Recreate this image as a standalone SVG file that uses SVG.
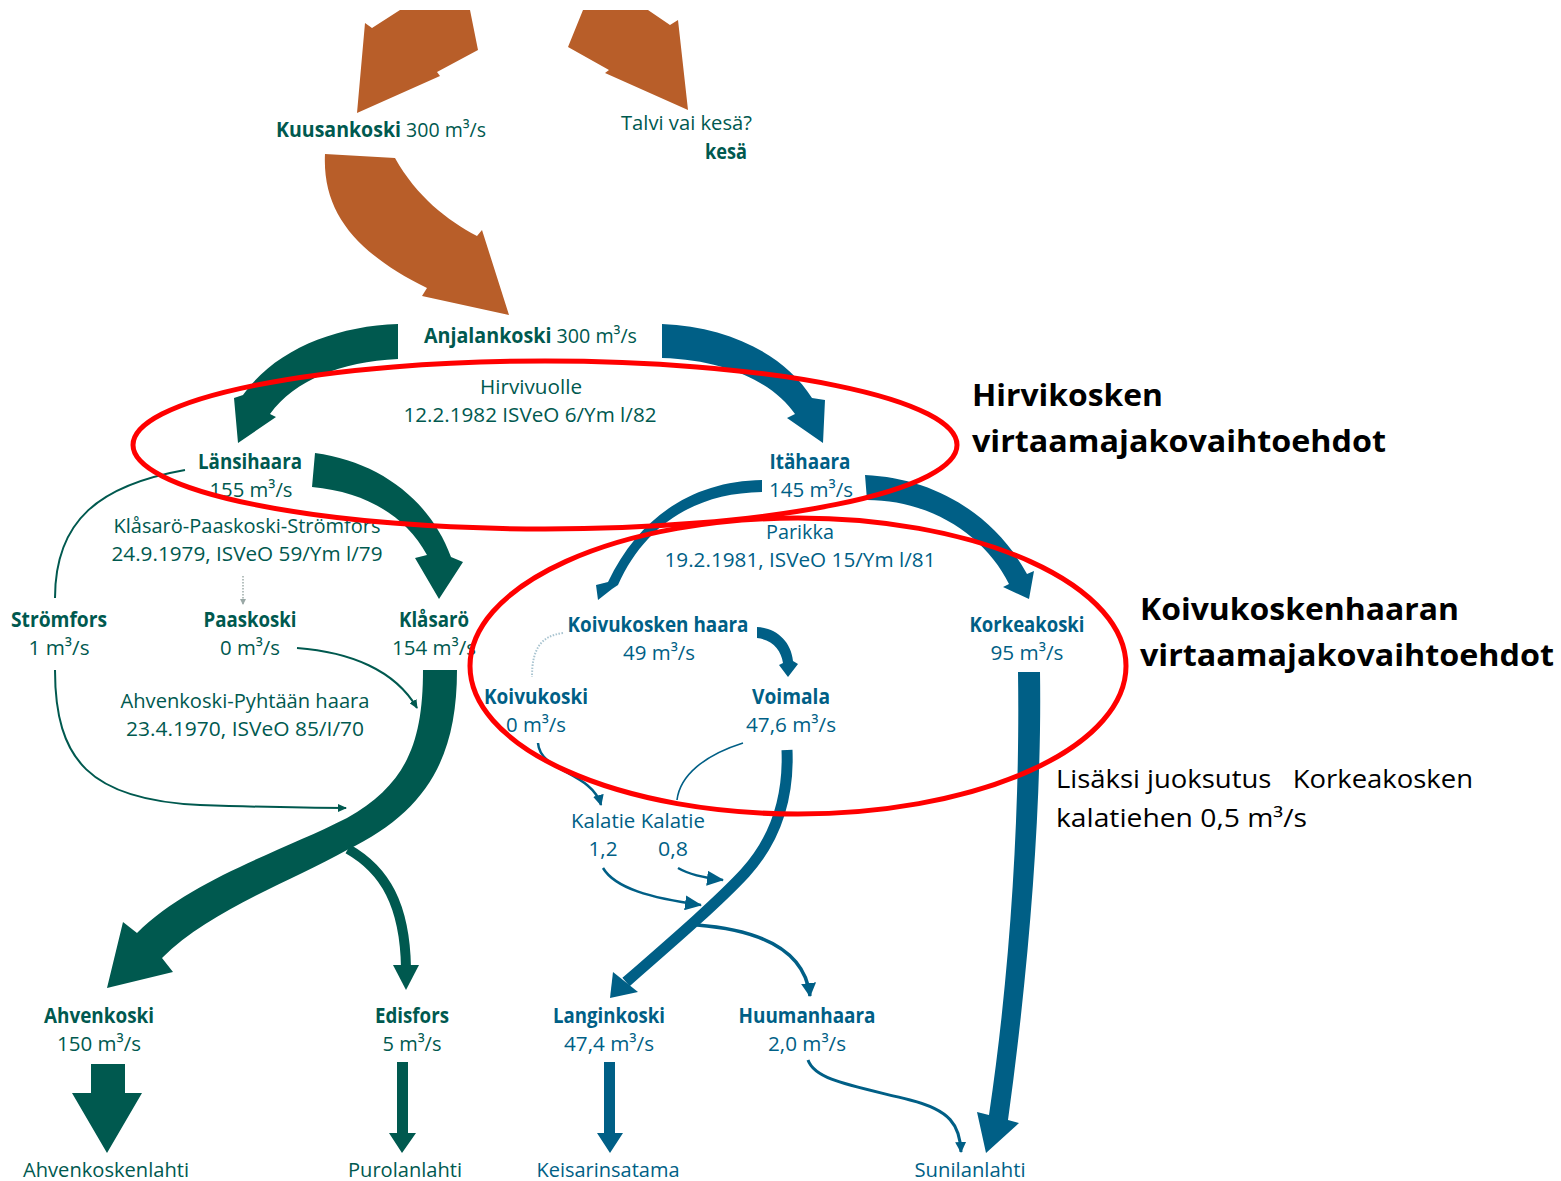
<svg xmlns="http://www.w3.org/2000/svg" width="1561" height="1181" viewBox="0 0 1561 1181">
<defs>
<style>
.t{font-family:"Open Sans","Noto Sans","DejaVu Sans",sans-serif;font-size:20.5px;}
.b{font-weight:bold;}
.g{fill:#00594F;}
.u{fill:#005F86;}
.k{fill:#000000;font-family:"Open Sans","Noto Sans","DejaVu Sans",sans-serif;}
.or{fill:#B85E29;}
.fg{fill:#00594F;}
.fb{fill:#005F86;}
.lg{fill:none;stroke:#00594F;}
.lb{fill:none;stroke:#005F86;}
.red{fill:none;stroke:#FF0000;stroke-width:5;}
</style>
<marker id="mg" markerUnits="userSpaceOnUse" markerWidth="9" markerHeight="8" refX="8" refY="4" orient="auto"><path d="M0,0 L9,4 L0,8 Z" fill="#00594F"/></marker>
<marker id="mgd" markerUnits="userSpaceOnUse" markerWidth="6" markerHeight="6" refX="5" refY="3" orient="auto"><path d="M0,0 L6,3 L0,6 Z" fill="#9aa8a6"/></marker>
<marker id="mb" markerUnits="userSpaceOnUse" markerWidth="17" markerHeight="15" refX="16" refY="7.5" orient="auto"><path d="M0,0 L17,7.5 L0,15 Z" fill="#005F86"/></marker>
<marker id="mbs" markerUnits="userSpaceOnUse" markerWidth="11" markerHeight="11" refX="10" refY="5.5" orient="auto"><path d="M0,0 L11,5.5 L0,11 Z" fill="#005F86"/></marker>
<marker id="mbm" markerUnits="userSpaceOnUse" markerWidth="14" markerHeight="15" refX="13" refY="7.5" orient="auto"><path d="M0,0 L14,7.5 L0,15 Z" fill="#005F86"/></marker>
</defs>
<rect width="1561" height="1181" fill="#ffffff"/>

<g id="connectors">
  <!-- orange top arrows -->
  <polygon class="or" points="400,10 470,10 478,50 437,72 440,76 357,113 365,23 372,28"/>
  <polygon class="or" points="583,10 648,10 670,25 678,20 688,110 605,73 609,70 568,47"/>
  <path class="or" d="M325,154 C322,215 360,255 427,288 L422,296 L509,315 L482,230 L477,236 C447,220 417,197 395,158 Z"/>

  <!-- Anjalankoski split -->
  <path class="fg" d="M398,324 C335,326 275,350 243,395 L234,398 L238,443 L276,417 L270,414 C295,380 340,362 398,359 Z"/>
  <path class="fb" d="M662,324 C730,327 785,355 812,398 L825,400 L823,443 L787,418 L795,414 C775,385 730,360 662,358 Z"/>

  <!-- Länsihaara -> Klåsarö -->
  <path class="fg" d="M315,453 C380,462 430,500 451,557 L463,562 L439,599 L415,558 L427,555 C405,515 365,492 312,487 Z"/>
  <!-- Klåsarö -> Ahvenkoski -->
  <path class="fg" d="M423,670 C423,745 405,785 347,818 C280,852 190,880 137,933 L123,922 L107,988 L173,972 L162,958 C210,910 290,882 347,850 C425,812 457,760 457,670 Z"/>
  <!-- branch -> Edisfors -->
  <path class="lg" stroke-width="10" d="M348,849 C385,870 405,905 406,968"/>
  <polygon class="fg" points="393,965 419,965 406,990"/>

  <!-- thin green lines -->
  <path class="lg" stroke-width="2" d="M185,470 C100,485 55,520 55,598"/>
  <path class="lg" stroke-width="2" marker-end="url(#mg)" d="M55,670 C55,760 90,800 200,805 C260,807 300,808 346,808"/>
  <path class="lg" stroke-width="2" marker-end="url(#mg)" d="M297,648 C350,652 395,670 417,708"/>
  <path fill="none" stroke="#b5c0be" stroke-width="2" stroke-dasharray="1.5,1.5" marker-end="url(#mgd)" d="M243,576 L243,604"/>

  <!-- Itähaara split -->
  <path class="fb" d="M762,480 C695,481 640,515 608,582 L596,585 L598,600 L612,589 L618,585 C645,525 695,493 762,492 Z"/>
  <path class="fb" d="M865,475 C935,478 995,515 1027,574 L1034,571 L1029,599 L1003,587 L1009,584 C985,535 930,500 867,500 Z"/>

  <!-- Koivukosken haara -> Voimala -->
  <path class="fb" d="M757,627 C776,628 791,641 793,661 L798,664 L788,677 L779,665 L783,663 C781,650 773,640 757,638 Z"/>
  <!-- Koivukosken haara -> Koivukoski dotted -->
  <path fill="none" stroke="#a9c4d0" stroke-width="2" stroke-dasharray="1.5,1.5" d="M563,633 C540,636 532,650 532,677"/>

  <!-- Koivukoski -> Kalatie -->
  <path class="lb" stroke-width="2.5" marker-end="url(#mbs)" d="M538,743 C540,772 592,772 601,805"/>
  <!-- Voimala -> Kalatie 0,8 -->
  <path class="lb" stroke-width="1.6" d="M743,743 C705,755 680,775 677,800"/>

  <!-- Voimala -> Langinkoski -->
  <path class="lb" stroke-width="11" d="M787,750 C789,800 775,840 745,873 C720,900 680,935 626,982"/>
  <polygon class="fb" points="613,972 638,992 610,998"/>

  <!-- Kalatie arrows -->
  <path class="lb" stroke-width="2.5" marker-end="url(#mb)" d="M603,868 C615,888 650,898 701,905"/>
  <path class="lb" stroke-width="2.5" marker-end="url(#mb)" d="M678,868 C690,875 705,878 723,880"/>

  <!-- branch -> Huumanhaara -->
  <path class="lb" stroke-width="3.5" marker-end="url(#mbm)" d="M697,925 C760,930 805,950 810,996"/>

  <!-- Korkeakoski -> Sunilanlahti -->
  <path class="fb" d="M1018,672 C1020,800 1012,960 989,1115 L977,1112 L986,1153 L1019,1123 L1008,1120 C1030,960 1042,800 1040,672 Z"/>
  <!-- Huumanhaara -> Sunilanlahti -->
  <path class="lb" stroke-width="3" marker-end="url(#mbs)" d="M808,1060 C815,1080 850,1085 910,1100 C950,1110 960,1125 961,1152"/>

  <!-- bottom block arrows -->
  <polygon class="fg" points="91,1064 125,1064 125,1093 142,1093 107,1153 72,1093 91,1093"/>
  <polygon class="fg" points="397,1062 408,1062 408,1133 416,1133 402,1153 389,1133 397,1133"/>
  <polygon class="fb" points="604,1062 615,1062 615,1133 623,1133 610,1153 597,1133 604,1133"/>
</g>

<g id="node-kuusankoski"><text class="t g" x="276" y="137" textLength="210" lengthAdjust="spacingAndGlyphs"><tspan class="b">Kuusankoski</tspan> 300 m³/s</text></g>
<g id="node-talvi">
  <text class="t g" x="752" y="130" text-anchor="end" textLength="131" lengthAdjust="spacingAndGlyphs">Talvi vai kesä?</text>
  <text class="t g b" x="747" y="159" text-anchor="end" textLength="42" lengthAdjust="spacingAndGlyphs">kesä</text>
</g>
<g id="node-anjalankoski"><text class="t g" x="424" y="343" textLength="213" lengthAdjust="spacingAndGlyphs"><tspan class="b">Anjalankoski</tspan> 300 m³/s</text></g>
<g id="label-hirvivuolle">
  <text class="t g" x="531" y="394" text-anchor="middle" textLength="102" lengthAdjust="spacingAndGlyphs">Hirvivuolle</text>
  <text class="t g" x="530" y="422" text-anchor="middle" textLength="253" lengthAdjust="spacingAndGlyphs">12.2.1982 ISVeO 6/Ym l/82</text>
</g>
<g id="node-lansihaara">
  <text class="t g b" x="250" y="469" text-anchor="middle" textLength="104" lengthAdjust="spacingAndGlyphs">Länsihaara</text>
  <text class="t g" x="251" y="497" text-anchor="middle" textLength="83" lengthAdjust="spacingAndGlyphs">155 m³/s</text>
</g>
<g id="node-itahaara">
  <text class="t u b" x="810" y="469" text-anchor="middle" textLength="81" lengthAdjust="spacingAndGlyphs">Itähaara</text>
  <text class="t u" x="811" y="497" text-anchor="middle" textLength="84" lengthAdjust="spacingAndGlyphs">145 m³/s</text>
</g>
<g id="label-klasaro-paaskoski">
  <text class="t g" x="247" y="533" text-anchor="middle" textLength="267" lengthAdjust="spacingAndGlyphs">Klåsarö-Paaskoski-Strömfors</text>
  <text class="t g" x="247" y="561" text-anchor="middle" textLength="271" lengthAdjust="spacingAndGlyphs">24.9.1979, ISVeO 59/Ym l/79</text>
</g>
<g id="label-parikka">
  <text class="t u" x="800" y="539" text-anchor="middle" textLength="68" lengthAdjust="spacingAndGlyphs">Parikka</text>
  <text class="t u" x="800" y="567" text-anchor="middle" textLength="271" lengthAdjust="spacingAndGlyphs">19.2.1981, ISVeO 15/Ym l/81</text>
</g>
<g id="node-stromfors">
  <text class="t g b" x="59" y="627" text-anchor="middle" textLength="96" lengthAdjust="spacingAndGlyphs">Strömfors</text>
  <text class="t g" x="59" y="655" text-anchor="middle" textLength="61" lengthAdjust="spacingAndGlyphs">1 m³/s</text>
</g>
<g id="node-paaskoski">
  <text class="t g b" x="250" y="627" text-anchor="middle" textLength="93" lengthAdjust="spacingAndGlyphs">Paaskoski</text>
  <text class="t g" x="250" y="655" text-anchor="middle" textLength="60" lengthAdjust="spacingAndGlyphs">0 m³/s</text>
</g>
<g id="node-klasaro">
  <text class="t g b" x="434" y="627" text-anchor="middle" textLength="70" lengthAdjust="spacingAndGlyphs">Klåsarö</text>
  <text class="t g" x="434" y="655" text-anchor="middle" textLength="84" lengthAdjust="spacingAndGlyphs">154 m³/s</text>
</g>
<g id="node-koivukosken-haara">
  <text class="t u b" x="658" y="632" text-anchor="middle" textLength="181" lengthAdjust="spacingAndGlyphs">Koivukosken haara</text>
  <text class="t u" x="659" y="660" text-anchor="middle" textLength="72" lengthAdjust="spacingAndGlyphs">49 m³/s</text>
</g>
<g id="node-korkeakoski">
  <text class="t u b" x="1027" y="632" text-anchor="middle" textLength="115" lengthAdjust="spacingAndGlyphs">Korkeakoski</text>
  <text class="t u" x="1027" y="660" text-anchor="middle" textLength="73" lengthAdjust="spacingAndGlyphs">95 m³/s</text>
</g>
<g id="label-ahvenkoski-pyhtaa">
  <text class="t g" x="245" y="708" text-anchor="middle" textLength="249" lengthAdjust="spacingAndGlyphs">Ahvenkoski-Pyhtään haara</text>
  <text class="t g" x="245" y="736" text-anchor="middle" textLength="238" lengthAdjust="spacingAndGlyphs">23.4.1970, ISVeO 85/I/70</text>
</g>
<g id="node-koivukoski">
  <text class="t u b" x="536" y="704" text-anchor="middle" textLength="104" lengthAdjust="spacingAndGlyphs">Koivukoski</text>
  <text class="t u" x="536" y="732" text-anchor="middle" textLength="60" lengthAdjust="spacingAndGlyphs">0 m³/s</text>
</g>
<g id="node-voimala">
  <text class="t u b" x="791" y="704" text-anchor="middle" textLength="78" lengthAdjust="spacingAndGlyphs">Voimala</text>
  <text class="t u" x="791" y="732" text-anchor="middle" textLength="90" lengthAdjust="spacingAndGlyphs">47,6 m³/s</text>
</g>
<g id="node-kalatie">
  <text class="t u" x="571" y="828" textLength="134" lengthAdjust="spacingAndGlyphs">Kalatie Kalatie</text>
  <text class="t u" x="603" y="856" text-anchor="middle" textLength="29" lengthAdjust="spacingAndGlyphs">1,2</text>
  <text class="t u" x="673" y="856" text-anchor="middle" textLength="30" lengthAdjust="spacingAndGlyphs">0,8</text>
</g>
<g id="node-ahvenkoski">
  <text class="t g b" x="99" y="1023" text-anchor="middle" textLength="110" lengthAdjust="spacingAndGlyphs">Ahvenkoski</text>
  <text class="t g" x="99" y="1051" text-anchor="middle" textLength="84" lengthAdjust="spacingAndGlyphs">150 m³/s</text>
</g>
<g id="node-edisfors">
  <text class="t g b" x="412" y="1023" text-anchor="middle" textLength="74" lengthAdjust="spacingAndGlyphs">Edisfors</text>
  <text class="t g" x="412" y="1051" text-anchor="middle" textLength="59" lengthAdjust="spacingAndGlyphs">5 m³/s</text>
</g>
<g id="node-langinkoski">
  <text class="t u b" x="609" y="1023" text-anchor="middle" textLength="112" lengthAdjust="spacingAndGlyphs">Langinkoski</text>
  <text class="t u" x="609" y="1051" text-anchor="middle" textLength="90" lengthAdjust="spacingAndGlyphs">47,4 m³/s</text>
</g>
<g id="node-huumanhaara">
  <text class="t u b" x="807" y="1023" text-anchor="middle" textLength="137" lengthAdjust="spacingAndGlyphs">Huumanhaara</text>
  <text class="t u" x="807" y="1051" text-anchor="middle" textLength="78" lengthAdjust="spacingAndGlyphs">2,0 m³/s</text>
</g>
<g id="node-ahvenkoskenlahti"><text class="t g" x="106" y="1177" text-anchor="middle" textLength="166" lengthAdjust="spacingAndGlyphs">Ahvenkoskenlahti</text></g>
<g id="node-purolanlahti"><text class="t g" x="405" y="1177" text-anchor="middle" textLength="114" lengthAdjust="spacingAndGlyphs">Purolanlahti</text></g>
<g id="node-keisarinsatama"><text class="t u" x="608" y="1177" text-anchor="middle" textLength="143" lengthAdjust="spacingAndGlyphs">Keisarinsatama</text></g>
<g id="node-sunilanlahti"><text class="t u" x="970" y="1177" text-anchor="middle" textLength="111" lengthAdjust="spacingAndGlyphs">Sunilanlahti</text></g>

<g id="title-hirvikoski">
  <text class="k b" x="972" y="406" font-size="30.5" textLength="191" lengthAdjust="spacingAndGlyphs">Hirvikosken</text>
  <text class="k b" x="972" y="452" font-size="30.5" textLength="414" lengthAdjust="spacingAndGlyphs">virtaamajakovaihtoehdot</text>
</g>
<g id="title-koivukoski">
  <text class="k b" x="1140" y="620" font-size="30.5" textLength="319" lengthAdjust="spacingAndGlyphs">Koivukoskenhaaran</text>
  <text class="k b" x="1140" y="666" font-size="30.5" textLength="414" lengthAdjust="spacingAndGlyphs">virtaamajakovaihtoehdot</text>
</g>
<g id="note-lisaksi">
  <text class="k" x="1056" y="788" font-size="25" xml:space="preserve" textLength="417" lengthAdjust="spacingAndGlyphs">Lisäksi juoksutus   Korkeakosken</text>
  <text class="k" x="1056" y="827" font-size="25" textLength="251" lengthAdjust="spacingAndGlyphs">kalatiehen 0,5 m³/s</text>
</g>

<g id="highlights">
  <ellipse class="red" cx="545" cy="445" rx="412" ry="84"/>
  <ellipse class="red" cx="798" cy="666" rx="328" ry="148"/>
</g>
</svg>
